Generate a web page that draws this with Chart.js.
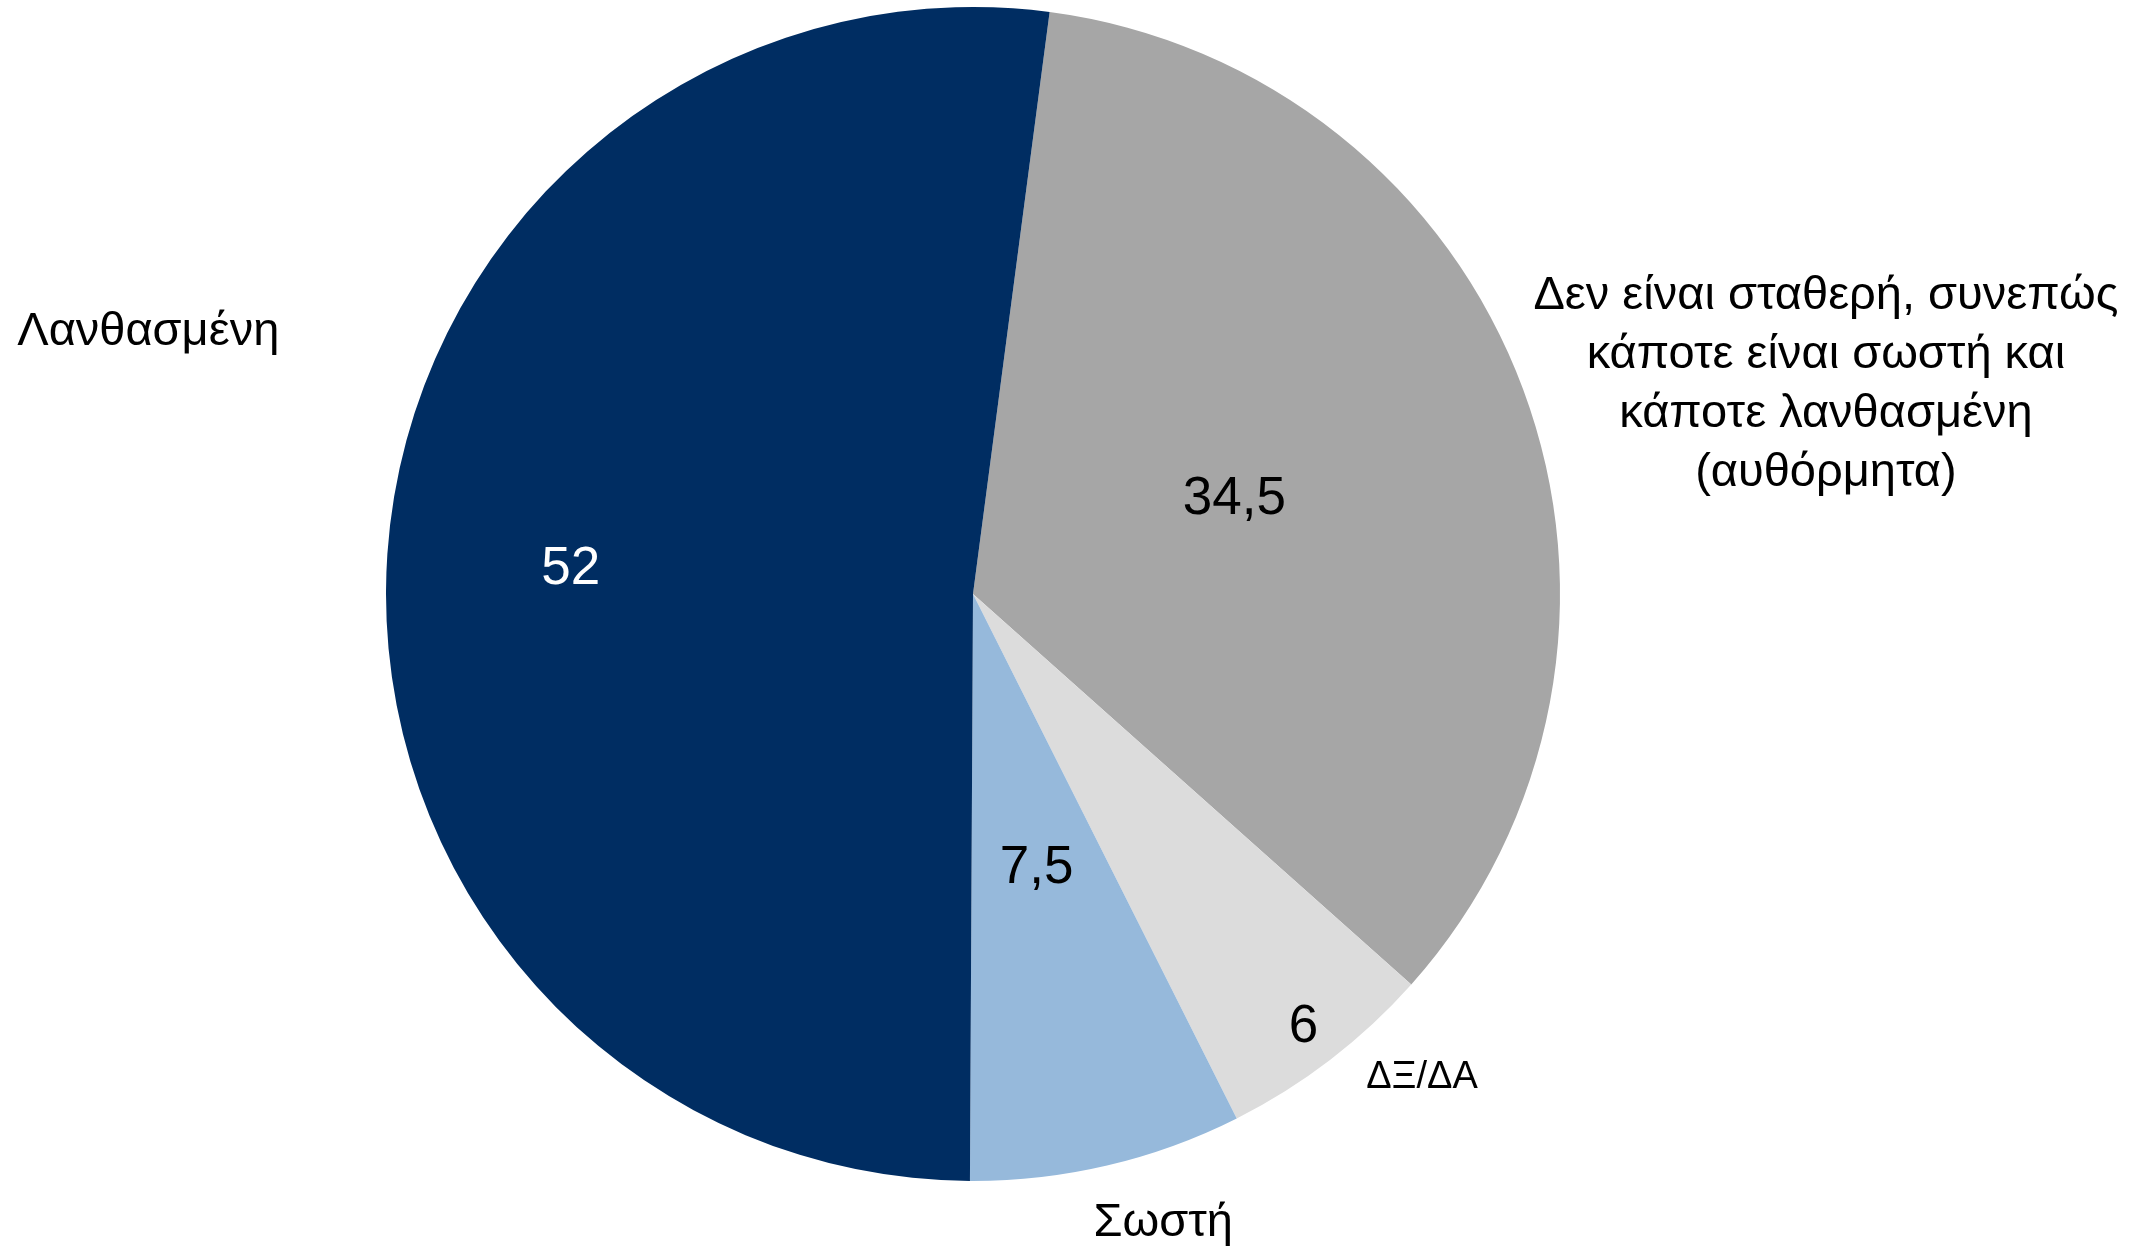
<!DOCTYPE html>
<html>
<head>
<meta charset="utf-8">
<script src="https://cdn.jsdelivr.net/npm/chart.js@4"></script>
<style>
  html, body { margin: 0; padding: 0; background: #fff; }
  #wrap { width: 2153px; height: 1251px; position: relative; }
</style>
</head>
<body>
<div id="wrap"><canvas id="pie"></canvas></div>
<script>
// slices, clockwise from just right of the top
const categories = [
  ['Δεν είναι σταθερή, συνεπώς', 'κάποτε είναι σωστή και', 'κάποτε λανθασμένη', '(αυθόρμητα)'],
  ['ΔΞ/ΔΑ'],
  ['Σωστή'],
  ['Λανθασμένη']
];
const values = [34.5, 6, 7.5, 52];

const colors = ['#a6a6a6', '#dcdcdc', '#96b9db', '#002d62'];
const valueColors = ['#000', '#000', '#000', '#fff'];
// value label distance from centre, as a share of the radius
const valueRadius = [0.475, 0.925, 0.475, 0.687];
// category label centre, offset from pie centre in radius units
const labelSpots = [[1.453, -0.357], [0.765, 0.823], [0.324, 1.072], [-1.405, -0.446]];
const labelSizes = [47, 38, 47, 47];

const FONT = '"Liberation Sans", Arial, Helvetica, sans-serif';

const pieLabels = {
  id: 'pieLabels',
  afterDatasetsDraw(chart) {
    const ctx = chart.ctx;
    const arcs = chart.getDatasetMeta(0).data;
    ctx.save();
    ctx.textAlign = 'center';
    ctx.textBaseline = 'middle';
    arcs.forEach((arc, i) => {
      const { x, y, startAngle, endAngle, outerRadius } = arc.getProps(['x', 'y', 'startAngle', 'endAngle', 'outerRadius'], true);
      const mid = (startAngle + endAngle) / 2;
      const d = outerRadius * valueRadius[i];
      ctx.font = '53px ' + FONT;
      ctx.fillStyle = valueColors[i];
      ctx.fillText(String(values[i]).replace('.', ','), x + Math.cos(mid) * d, y + Math.sin(mid) * d + 3);

      const lines = categories[i];
      const size = labelSizes[i];
      const lh = size * 1.25;
      const cx = x + labelSpots[i][0] * outerRadius;
      const cy = y + labelSpots[i][1] * outerRadius;
      ctx.font = size + 'px ' + FONT;
      ctx.fillStyle = '#000';
      lines.forEach((t, k) => {
        ctx.fillText(t, cx, cy + (k - (lines.length - 1) / 2) * lh);
      });
    });
    ctx.restore();
  }
};

new Chart(document.getElementById('pie'), {
  type: 'pie',
  data: {
    labels: categories.map(c => c.join(' ')),
    datasets: [{
      data: values,
      backgroundColor: colors,
      borderWidth: 0,
      hoverOffset: 0
    }]
  },
  options: {
    responsive: true,
    maintainAspectRatio: false,
    animation: false,
    rotation: 7.5,
    layout: { padding: { top: 7, bottom: 70, left: 0, right: 207 } },
    plugins: {
      legend: { display: false },
      tooltip: { enabled: false }
    }
  },
  plugins: [pieLabels]
});
</script>
</body>
</html>
